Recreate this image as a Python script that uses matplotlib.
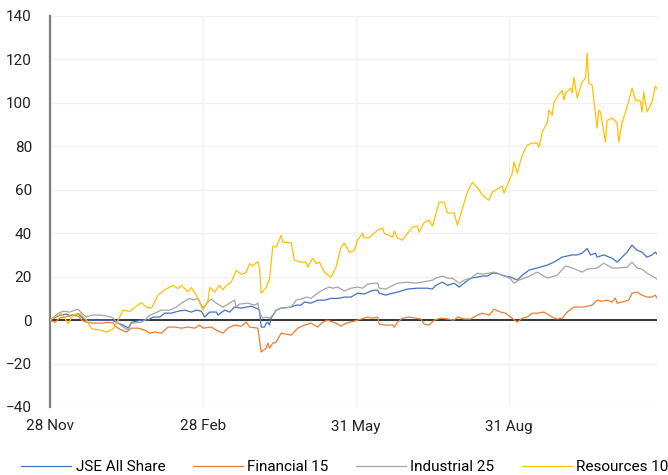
import pandas as pd
import matplotlib
matplotlib.use("Agg")
import matplotlib.pyplot as plt

plt.rcParams['font.family'] = ['Roboto', 'DejaVu Sans']

# start date of the series, x values are days after this
start = pd.Timestamp('2020-11-28')

# JSE All Share
jse_days = [0, 6, 10, 12, 17, 21, 37, 40, 44, 47, 49, 55, 59, 62, 66, 69, 73, 77, 81, 85,
            88, 91, 93, 96, 100, 101, 105, 108, 111, 115, 118, 121, 124, 126, 127, 129, 130,
            131, 132, 133, 136, 139, 145, 148, 151, 153, 157, 161, 165, 169, 173, 177, 181,
            185, 189, 193, 195, 197, 198, 202, 204, 209, 215, 221, 227, 230, 232, 236, 239,
            243, 246, 249, 253, 257, 260, 263, 266, 269, 273, 277, 281, 284, 288, 293, 299,
            303, 308, 314, 317, 320, 323, 325, 328, 329, 333, 338, 341, 344, 347, 350, 353,
            356, 359, 362, 364, 365]
jse_vals = [0, 2.3, 2.8, 2, 2.8, 0, 0, -1, -2.3, -3.7, -1, 0, 0, 1.4, 1.4, 3.2, 3.2, 4.1, 4.6, 3.7,
            4.6, 4.1, 1.4, 3.7, 3.7, 2.3, 4.6, 3.7, 6, 5.5, 6, 6.4, 5.5, 4.6, -3.2, -3.2, -1.4,
            -1.0, -2.3, 0.9, 4.6, 5.5, 6, 6.9, 6.9, 8.3, 7.8, 9.2, 9.2, 10, 10, 10.6, 10.6,
            12.4, 12, 13.4, 13.8, 13.8, 12.4, 11.5, 12, 12.9, 14.3, 14.7, 14.7, 14.3, 16, 17.5, 16,
            17, 15.2, 17, 19.3, 19.8, 20.3, 20.3, 21.6, 21.6, 20.3, 19.8, 18.4, 20.7, 23, 24, 25.3,
            26.7, 29, 30, 30, 30.8, 33, 30, 30.8, 29, 30, 28.5, 26.7, 29, 31.3, 34.5, 32.2,
            31.3, 29, 30, 31.3, 30.4]

# Financial 15
fin_days = [0, 3, 6, 9, 13, 17, 19, 22, 26, 31, 35, 38, 40, 43, 46, 49, 53, 57, 60, 63, 67,
            71, 75, 79, 83, 87, 90, 92, 97, 100, 104, 107, 111, 115, 118, 120, 125, 126, 127,
            130, 131, 132, 134, 136, 139, 145, 149, 153, 157, 161, 164, 167, 170, 172, 175, 178,
            181, 185, 191, 194, 197, 198, 202, 206, 207, 209, 212, 216, 220, 223, 225, 228, 231,
            235, 239, 243, 245, 249, 253, 257, 260, 264, 267, 271, 274, 277, 281, 284, 287, 290,
            293, 297, 302, 305, 308, 311, 315, 321, 326, 329, 332, 335, 338, 340, 341, 344, 348,
            350, 353, 356, 359, 362, 364, 365]
fin_vals = [0, -1, 1, 1.4, 2.3, 1.8, 0, -1, -1.4, -1.4, -1, -1.4, -3.2, -4.6, -5.5, -3.7, -3.7,
            -4.6, -6, -5.5, -6, -3.2, -3.2, -3.7, -3.2, -3.7, -2.3, -3.7, -3.2, -4.6, -6, -3.7,
            -2.3, -2.8, -0.9, -3.2, -3.7, -9.2, -14.7, -12.9, -10.6, -12.9, -10.6, -10.1, -6,
            -6.9, -3.7, -2.3, -1.4, -3.2, -0.9, 0, -0.9, -1.4, -2.8, -1.4, -0.9, 0, 1.4, 0.9, 1.4,
            -1.8, -2.3, -2.3, -3.2, -0.9, 0.9, 1.4, 0.9, 0.5, -1.8, -2.3, 0, 0.9, 0.5, 0, 1.4,
            0.5, 0.5, 2.3, 3.2, 2.3, 5, 3.7, 3.2, 1.4, -0.9, 0.9, 1.4, 3.2, 3.2, 3.7, 1.4, 0.5,
            0.9, 3.7, 6, 6, 6.9, 9.2, 8.7, 9.2, 8.3, 10.1, 7.8, 8.3, 9.2, 12.4, 12.9, 11.5,
            10.6, 10.6, 11.5, 10.1]

# Industrial 25
ind_days = [0, 5, 8, 12, 15, 17, 19, 22, 25, 31, 37, 41, 45, 47, 49, 55, 57, 60, 63, 67, 72,
            76, 79, 82, 84, 86, 89, 92, 95, 97, 100, 104, 108, 111, 112, 114, 119, 123, 125,
            126, 128, 130, 132, 134, 136, 139, 145, 148, 151, 154, 157, 161, 165, 168, 170, 173,
            177, 181, 185, 188, 191, 195, 197, 198, 202, 204, 209, 215, 219, 224, 230, 232, 236,
            239, 242, 246, 249, 253, 257, 260, 264, 267, 270, 274, 277, 279, 282, 287, 293, 299,
            305, 310, 314, 320, 323, 329, 333, 338, 342, 347, 350, 353, 356, 359, 365]
ind_vals = [0, 3.2, 4.1, 3.7, 4.6, 5, 3.2, 1.4, 2.3, 2.3, 1.4, -1.4, -3.7, -4.6, -1.4, -1, 0,
            2.3, 3.2, 4.6, 4.6, 6, 7.8, 9.2, 10, 9.2, 10, 5.5, 8.3, 9.7, 7.8, 6, 7.8, 9.2, 6,
            7.4, 7.8, 6.9, 7.8, 3.2, 0.9, 1.4, 0.9, 2.3, 4.6, 5.5, 6, 9.2, 9.7, 10.6, 10.1,
            12.4, 14.3, 15.2, 14.7, 15.2, 13.4, 14.7, 15.2, 14.7, 16.6, 17, 17, 14.7, 14.3,
            15.2, 17, 17.5, 17, 17.5, 18.4, 19.3, 20.3, 19.3, 19.3, 17, 18.4, 19.3, 21.6, 21.2,
            21.6, 22.1, 21.2, 20.3, 18.9, 17, 18.4, 19.8, 22.1, 19.3, 20.7, 24.9, 24, 22.1, 23.5,
            24, 26.2, 24, 24, 24.4, 26.7, 24, 23.5, 21.6, 18.9]

# Resources 10
res_days = [0, 3, 7, 11, 14, 18, 22, 25, 30, 34, 38, 40, 44, 48, 52, 55, 58, 61, 65, 69, 74,
            77, 79, 83, 85, 88, 92, 95, 96, 99, 102, 104, 106, 109, 112, 115, 118, 120, 122,
            125, 126, 127, 130, 132, 134, 136, 139, 140, 145, 147, 151, 154, 155, 158, 160, 162,
            165, 167, 169, 172, 175, 177, 180, 183, 185, 188, 189, 192, 197, 200, 201, 206, 207,
            209, 212, 215, 218, 221, 222, 225, 228, 230, 234, 237, 239, 243, 245, 249, 251, 254,
            258, 260, 264, 266, 272, 273, 278, 279, 281, 284, 287, 290, 293, 294, 296, 299, 300,
            302, 303, 305, 308, 309, 310, 313, 314, 315, 317, 320, 322, 323, 324, 326, 329, 330,
            331, 334, 335, 338, 341, 342, 344, 347, 350, 352, 355, 356, 357, 359, 362, 364, 365]
res_vals = [0, 1.5, 3, -1.5, 2.5, 3, 0, -4, -4.5, -5.5, -4, -1.5, 4.6, 4, 6.5, 8, 6, 5.5, 11.5,
            14, 16, 14.5, 16, 13, 15, 11.5, 4.6, 9, 15, 13, 16, 14, 16, 17.5, 23, 21, 22, 26, 25,
            27, 24, 12.4, 15, 19, 34, 33.6, 39, 36, 35.5, 27.6, 26.7, 26.7, 24.4, 28.5, 26, 26.7,
            22, 20.7, 19.8, 24.4, 33.6, 35.5, 31.3, 32, 37, 40, 37.8, 38, 41.4, 42.4, 40, 38.2,
            41, 37.8, 36.8, 40, 42.8, 43.3, 40.5, 45, 46, 43.3, 54.3, 54.3, 49.3, 49.3, 43.7,
            53.9, 59, 63.5, 60, 57.5, 55.2, 59, 61.7, 58.5, 67.7, 72.7, 67.7, 76, 80.6, 81.5,
            81.5, 79.6, 86.6, 91, 96.7, 94.4, 100, 102.7, 105.9, 101.3, 104.5, 106.8, 104.5,
            111.9, 102.2, 109.6, 111.4, 123, 109, 108.2, 88.4, 96.7, 95.8, 82, 92, 93, 90.7, 82,
            91, 98, 106.8, 101.3, 100.8, 95.8, 105, 95.8, 100.4, 107.7, 106.4]

series = [
    ('JSE All Share', jse_days, jse_vals, '#4472c4'),
    ('Financial 15', fin_days, fin_vals, '#ed7d31'),
    ('Industrial 25', ind_days, ind_vals, '#a5a5a5'),
    ('Resources 10', res_days, res_vals, '#ffc000'),
]

tick_dates = ['2020-11-28', '2021-02-28', '2021-05-31', '2021-08-31']
tick_labels = ['28 Nov', '28 Feb', '31 May', '31 Aug']

fig = plt.figure(figsize=(6.68, 4.75), dpi=100)
ax = fig.add_axes([50 / 668, 1 - 407 / 475, 607 / 668, 391 / 475])

for name, days, vals, color in series:
    x = start + pd.to_timedelta(days, unit='D')
    ax.plot(x, vals, color=color, lw=0.9, label=name, zorder=3)

ax.axhline(0, color='black', lw=1.1, zorder=2)

ax.set_ylim(-40, 140)
ax.set_yticks(range(-40, 141, 20))
ax.set_xlim(start, start + pd.Timedelta(days=365))
ax.set_xticks(pd.to_datetime(tick_dates))
ax.set_xticklabels(tick_labels)

ax.grid(True, color='#f0f0f0', lw=1, zorder=0)
ax.set_axisbelow(True)
for s in ['top', 'right', 'bottom']:
    ax.spines[s].set_visible(False)
ax.spines['left'].set_color('#7f7f7f')
ax.spines['left'].set_linewidth(1.6)
ax.tick_params(axis='both', length=0, labelsize=11, colors='#222222')
ax.tick_params(axis='y', pad=13)
ax.tick_params(axis='x', pad=9)

fig.legend(loc='center left', bbox_to_anchor=(21 / 668, 1 - 467 / 475), ncol=4,
           frameon=False, fontsize=11, handlelength=3.3, handletextpad=0.28,
           columnspacing=1.78, borderpad=0, borderaxespad=0)

fig.savefig('out.png', dpi=100)
